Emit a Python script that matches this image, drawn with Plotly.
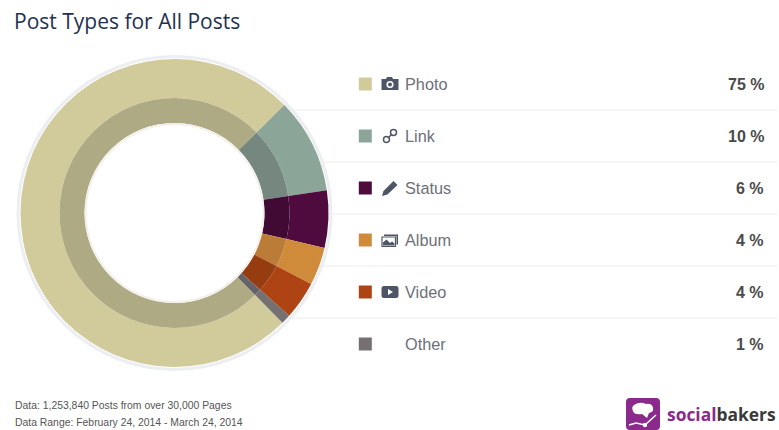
import plotly.graph_objects as go

WIDTH, HEIGHT = 779, 430

# Share of posts per type
categories = ["Photo", "Link", "Status", "Album", "Video", "Other"]
shares = [75, 10, 6, 4, 4, 1]
share_labels = ["75 %", "10 %", "6 %", "4 %", "4 %", "1 %"]
outer_colors = ["#d1cb9c", "#8ba598", "#4f0a3e", "#cf8b3a", "#ae4413", "#757072"]
inner_colors = ["#aeaa84", "#75877f", "#400a35", "#bb7c37", "#953c10", "#65626a"]

title_text = "Post Types for All Posts"
footer_lines = [
    "Data: 1,253,840 Posts from over 30,000 Pages",
    "Data Range: February 24, 2014 - March 24, 2014",
]

# Donut geometry in pixels
CX, CY = 174.5, 213
R_OUTER, R_MID, R_HOLE = 154, 115, 90
START_ANGLE = 135.5

# Legend rows
ROW_Y0, ROW_STEP = 84, 52
rows_y = [ROW_Y0 + ROW_STEP * i for i in range(len(categories))]
ICON_X = 390


def ring_domain(radius):
    return dict(
        x=[(CX - radius) / WIDTH, (CX + radius) / WIDTH],
        y=[1 - (CY + radius) / HEIGHT, 1 - (CY - radius) / HEIGHT],
    )


def ring(radius, hole_radius, colors):
    return go.Pie(
        labels=categories,
        values=shares,
        sort=False,
        direction="clockwise",
        rotation=START_ANGLE,
        hole=hole_radius / radius,
        domain=ring_domain(radius),
        marker=dict(colors=colors, line=dict(width=0)),
        textinfo="none",
        showlegend=False,
        hovertemplate="%{label}: %{value} %<extra></extra>",
    )


def placed(path, dx, dy):
    """Shift a path of alternating x,y pairs written around the origin."""
    out, is_x = [], True
    for token in path.split():
        if token.isalpha():
            out.append(token)
            continue
        out.append(f"{float(token) + (dx if is_x else dy):.2f}")
        is_x = not is_x
    return " ".join(out)


def icon(path, dx, dy, fill="#4d5567", line=None, width=0):
    return dict(
        type="path", xref="x", yref="y", path=placed(path, dx, dy),
        fillcolor=fill, line=dict(color=line or "rgba(0,0,0,0)", width=width),
    )


def circle(x, y, r, fill="rgba(0,0,0,0)", line=None, width=0, xref="x", yref="y"):
    return dict(
        type="circle", xref=xref, yref=yref, x0=x - r, x1=x + r, y0=y - r, y1=y + r,
        fillcolor=fill, line=dict(color=line or "rgba(0,0,0,0)", width=width),
    )


fig = go.Figure()
fig.add_trace(ring(R_OUTER, R_MID, outer_colors))
fig.add_trace(ring(R_MID, R_HOLE, inner_colors))

# Square swatches of the legend
fig.add_trace(go.Scatter(
    x=[365.3] * len(categories), y=rows_y, mode="markers",
    marker=dict(symbol="square", size=13, color=outer_colors, line=dict(width=0)),
    showlegend=False, hoverinfo="skip",
))

shapes = []

# Row separators run underneath the donut
for i in range(len(categories) - 1):
    y = rows_y[i] + ROW_STEP / 2
    shapes.append(dict(type="line", xref="x", yref="y", x0=285, x1=777, y0=y, y1=y,
                       line=dict(color="#ececec", width=1), layer="below"))

# Pale halos on both rims of the ring
shapes.append(circle(CX, CY, R_OUTER + 2.5, line="#eceef1", width=3))
shapes.append(circle(CX, CY, R_HOLE - 1, line="#f3efea", width=2))

# Camera
shapes.append(icon("M -8.5 -5 L -4 -5 L -3 -7 L 2 -7 L 3 -5 L 8.5 -5 L 8.5 6 L -8.5 6 Z", ICON_X, rows_y[0]))
shapes.append(circle(ICON_X, rows_y[0] + 0.5, 3.6, fill="#ffffff"))
shapes.append(circle(ICON_X, rows_y[0] + 0.5, 2.0, fill="#4d5567"))

# Chain link
shapes.append(circle(ICON_X - 3.5, rows_y[1] + 3.5, 3, line="#4d5567", width=1.5))
shapes.append(circle(ICON_X + 3.5, rows_y[1] - 3.5, 3, line="#4d5567", width=1.5))
shapes.append(dict(type="line", xref="x", yref="y", x0=ICON_X - 2, x1=ICON_X + 2,
                   y0=rows_y[1] + 2, y1=rows_y[1] - 2, line=dict(color="#4d5567", width=1.5)))

# Pencil
shapes.append(icon("M -8 8 L -6.5 3 L 3.5 -7 L 7.5 -3 L -2.5 6.5 Z", ICON_X, rows_y[2]))

# Framed album picture
shapes.append(icon("M -6 -5.5 L 8 -5.5 L 8 4.5 L 6.5 4.5 L 6.5 -4 L -6 -4 Z", ICON_X, rows_y[3]))
shapes.append(icon("M -8 -3 L 5.5 -3 L 5.5 6.5 L -8 6.5 Z", ICON_X, rows_y[3],
                   fill="#ffffff", line="#4d5567", width=1.2))
shapes.append(icon("M -7 5.5 L -7 2.5 L -3.5 -0.5 L 0 3 L 2 1.5 L 4.5 3.5 L 4.5 5.5 Z", ICON_X, rows_y[3]))

# Video button
shapes.append(icon("M -6 -6 L 6 -6 Q 8.5 -6 8.5 -3.5 L 8.5 3.5 Q 8.5 6 6 6 L -6 6 "
                   "Q -8.5 6 -8.5 3.5 L -8.5 -3.5 Q -8.5 -6 -6 -6 Z", ICON_X, rows_y[4]))
shapes.append(icon("M -2 -3 L 3 0 L -2 3 Z", ICON_X, rows_y[4], fill="#ffffff"))

# Brand mark: rounded tile, white bubble and a rising trend line
LOGO_X, LOGO_Y = 643, 414
shapes.append(icon("M -13 -16 L 13 -16 Q 17 -16 17 -12 L 17 12 Q 17 16 13 16 L -13 16 "
                   "Q -17 16 -17 12 L -17 -12 Q -17 -16 -13 -16 Z", LOGO_X, LOGO_Y, fill="#8a2a8c"))
shapes.append(icon("M -9 -9 Q -3 -13 3 -10 Q 9 -11 10 -6 Q 11 -2 6 -1 L 4 4 L -1 0 "
                   "Q -9 1 -10 -3 Q -12 -7 -9 -9 Z", LOGO_X, LOGO_Y, fill="#ffffff"))
shapes.append(dict(type="path", xref="x", yref="y",
                   path=placed("M -14 11 L -7 9 L 2 11 L 13 1", LOGO_X, LOGO_Y),
                   line=dict(color="#ffffff", width=1.5)))
shapes.append(circle(LOGO_X + 2, LOGO_Y + 11, 2.2, fill="#ffffff"))

annotations = [
    dict(x=12, y=20.5, text=title_text, xanchor="left", yanchor="middle", showarrow=False,
         font=dict(family="Open Sans", size=21, color="#1f3152")),
    dict(x=665, y=414, xanchor="left", yanchor="middle", showarrow=False,
         text="<span style='color:#8a2a8c'>social</span><span style='color:#3a3a3a'>bakers</span>",
         font=dict(family="Open Sans", size=17.4, weight="bold")),
]

for y, name, label in zip(rows_y, categories, share_labels):
    annotations.append(dict(x=403, y=y, text=name, xanchor="left", yanchor="middle", showarrow=False,
                            font=dict(family="Liberation Sans", size=16.3, color="#6d7079")))
    annotations.append(dict(x=766, y=y, text=label, xanchor="right", yanchor="middle", showarrow=False,
                            font=dict(family="Liberation Sans", size=16, color="#4a4a4a", weight="bold")))

for y, line in zip([405, 422], footer_lines):
    annotations.append(dict(x=13, y=y, text=line, xanchor="left", yanchor="middle", showarrow=False,
                            font=dict(family="Liberation Sans", size=10.4, color="#555555")))

for a in annotations:
    a.update(xref="x", yref="y")

fig.update_layout(
    width=WIDTH, height=HEIGHT,
    margin=dict(l=0, r=0, t=0, b=0),
    paper_bgcolor="#ffffff", plot_bgcolor="rgba(0,0,0,0)",
    xaxis=dict(range=[0, WIDTH], visible=False, fixedrange=True),
    yaxis=dict(range=[HEIGHT, 0], visible=False, fixedrange=True),
    shapes=shapes, annotations=annotations,
)

fig.write_html("out.html", config={"displayModeBar": False})
